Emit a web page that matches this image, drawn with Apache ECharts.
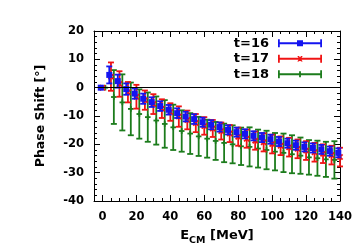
<!DOCTYPE html>
<html>
<head>
<meta charset="utf-8">
<script src="https://cdn.jsdelivr.net/npm/echarts@6/dist/echarts.min.js"></script>
<style>html,body{margin:0;padding:0;background:#fff;}#c{width:359px;height:251px;}</style>
</head>
<body>
<div id="c"></div>
<script>
// ---- data ----
const energies = [0,5,10,15,20,25,30,35,40,45,50,55,60,65,70,75,80,85,90,95,100,105,110,115,120,125,130,135,140];
const shiftT16 = -1.0, shiftT17 = 0.0, shiftT18 = 1.7; // small energy offsets per time slice (MeV)
const phaseT16 = [0,4.5,2.3,-0.5,-2.1,-3.9,-5.1,-6.5,-7.8,-9.0,-10.2,-11.1,-12.2,-13.1,-13.9,-14.9,-15.7,-16.3,-17.0,-17.6,-18.2,-19.0,-19.6,-20.3,-20.9,-21.3,-21.8,-22.4,-23.0];
const errT16   = [0,3.0,2.3,2.0,1.8,1.8,1.7,1.7,1.7,1.7,1.7,1.7,1.6,1.6,1.6,1.6,1.6,1.6,1.6,1.6,1.6,1.6,1.6,1.6,1.6,1.6,1.6,1.6,1.6];
const phaseT17 = [0,3.9,1.3,-1.6,-3.2,-4.4,-5.8,-7.4,-8.6,-10.2,-11.4,-12.5,-13.5,-14.4,-15.3,-16.2,-17.3,-18.0,-18.7,-19.3,-19.9,-20.5,-21.0,-21.6,-22.2,-22.8,-23.3,-23.8,-24.5];
const errT17   = [0,5.0,4.5,3.6,4.2,3.4,3.5,3.3,3.1,3.6,3.3,3.2,3.1,3.0,3.0,3.0,3.2,3.2,3.2,3.2,3.3,3.3,3.3,3.3,3.3,3.3,3.3,3.3,3.3];
const phaseT18 = [0,-3.3,-5.2,-7.5,-9.3,-10.4,-11.6,-12.8,-14.0,-15.3,-16.2,-17.2,-18.0,-18.8,-19.5,-20.0,-20.7,-20.9,-21.5,-22.0,-22.6,-23.0,-23.5,-24.0,-24.6,-24.9,-25.3,-25.5,null];
const errT18   = [0,9.5,9.9,9.3,8.7,8.7,8.5,8.4,8.0,7.3,7.2,6.9,6.7,6.7,6.8,6.7,6.6,6.9,6.7,6.8,6.6,6.8,6.7,6.4,6.1,6.2,6.2,6.6,null];
const seriesNames = ['t=16','t=17','t=18'];
const xTickLabels = [0,20,40,60,80,100,120,140];
const yTickLabels = [-40,-30,-20,-10,0,10,20];

// ---- styles ----
const FONT = 'DejaVu Sans';
const C16 = '#1414f0', C17 = '#f01414', C18 = '#1c7c1c';

function buildData(phase, err, shift) {
  const out = [];
  for (let i = 0; i < energies.length; i++) {
    if (phase[i] === null) continue;
    out.push([energies[i] + shift, phase[i], err[i]]);
  }
  return out;
}

function makeRender(color, marker) {
  return function (params, api) {
    const x = api.value(0), y = api.value(1), e = api.value(2);
    const c = api.coord([x, y]);
    const t = api.coord([x, y + e]);
    const b = api.coord([x, y - e]);
    const lw = 1.8, cw = 3;
    const st = { stroke: color, lineWidth: lw, fill: null };
    const ch = [];
    if (e > 0) {
      ch.push({ type: 'line', shape: { x1: c[0], y1: t[1], x2: c[0], y2: b[1] }, style: st });
      ch.push({ type: 'line', shape: { x1: c[0] - cw, y1: t[1], x2: c[0] + cw, y2: t[1] }, style: st });
      ch.push({ type: 'line', shape: { x1: c[0] - cw, y1: b[1], x2: c[0] + cw, y2: b[1] }, style: st });
    }
    if (marker === 'square') {
      ch.push({ type: 'rect', shape: { x: c[0] - 3, y: c[1] - 3, width: 6, height: 6 }, style: { fill: color } });
    } else if (marker === 'cross') {
      ch.push({ type: 'line', shape: { x1: c[0] - 2.6, y1: c[1] - 2.6, x2: c[0] + 2.6, y2: c[1] + 2.6 }, style: st });
      ch.push({ type: 'line', shape: { x1: c[0] - 2.6, y1: c[1] + 2.6, x2: c[0] + 2.6, y2: c[1] - 2.6 }, style: st });
    } else {
      ch.push({ type: 'line', shape: { x1: c[0] - 2.8, y1: c[1], x2: c[0] + 2.8, y2: c[1] }, style: st });
      ch.push({ type: 'line', shape: { x1: c[0], y1: c[1] - 2.8, x2: c[0], y2: c[1] + 2.8 }, style: st });
    }
    return { type: 'group', children: ch };
  };
}

const base = 'M0,3.1h44v1.8h-44z M0,0h1.8v8h-1.8z M42.2,0h1.8v8h-1.8z ';
const icon16 = 'path://' + base + 'M19,1h6v6h-6z';
const icon17 = 'path://' + base + 'M19.3,1.3L21,1.3L24.7,6.7L23,6.7Z M23,1.3L24.7,1.3L21,6.7L19.3,6.7Z';
const icon18 = 'path://' + base + 'M21.1,1h1.8v6h-1.8z';

const axisLineStyle = { color: '#000', width: 1 };
const labelStyle = { color: '#000', fontFamily: FONT, fontWeight: 'bold', fontSize: 11.5 };

const option = {
  animation: false,
  backgroundColor: '#fff',
  grid: { left: 94, right: 19, top: 31, bottom: 48, containLabel: false },
  legend: {
    orient: 'vertical', right: 32, top: 31, align: 'right',
    itemWidth: 44, itemHeight: 8, itemGap: 1,
    textStyle: { color: '#000', fontFamily: FONT, fontWeight: 'bold', fontSize: 13, lineHeight: 14.5, padding: [0, 4, 0, 0] },
    data: [
      { name: seriesNames[0], icon: icon16 },
      { name: seriesNames[1], icon: icon17 },
      { name: seriesNames[2], icon: icon18 }
    ]
  },
  xAxis: [
    { type: 'value', min: -5, max: 140, interval: 5, position: 'bottom',
      axisLine: { onZero: false, lineStyle: axisLineStyle }, axisTick: { inside: true, length: 3, lineStyle: axisLineStyle },
      axisLabel: { show: false }, splitLine: { show: false },
      name: '{a|E}{b|CM}{a| [MeV]}', nameLocation: 'middle', nameGap: 28,
      nameTextStyle: { color: '#000', rich: {
        a: { fontFamily: FONT, fontWeight: 'bold', fontSize: 13, color: '#000', verticalAlign: 'top', lineHeight: 16 },
        b: { fontFamily: FONT, fontWeight: 'bold', fontSize: 9.5, color: '#000', verticalAlign: 'top', lineHeight: 16, padding: [7, 0, 0, 0] }
      } } },
    { type: 'value', min: -5, max: 140, position: 'bottom',
      axisLine: { show: false, onZero: false },
      axisTick: { inside: true, length: 6, lineStyle: axisLineStyle, customValues: xTickLabels },
      axisLabel: Object.assign({ margin: 10, customValues: xTickLabels }, labelStyle), splitLine: { show: false } },
    { type: 'value', min: -5, max: 140, interval: 5, position: 'top',
      axisLine: { onZero: false, lineStyle: axisLineStyle }, axisTick: { inside: true, length: 3, lineStyle: axisLineStyle },
      axisLabel: { show: false }, splitLine: { show: false } },
    { type: 'value', min: -5, max: 140, position: 'top',
      axisLine: { show: false, onZero: false },
      axisTick: { inside: true, length: 6, lineStyle: axisLineStyle, customValues: xTickLabels },
      axisLabel: { show: false }, splitLine: { show: false } }
  ],
  yAxis: [
    { type: 'value', min: -40, max: 20, interval: 10, position: 'left',
      axisLine: { show: true, onZero: false, lineStyle: axisLineStyle },
      axisTick: { show: true, inside: true, length: 6, lineStyle: axisLineStyle },
      minorTick: { show: true, splitNumber: 5, length: 3, lineStyle: axisLineStyle },
      axisLabel: Object.assign({ margin: 10, customValues: yTickLabels }, labelStyle),
      splitLine: { show: false },
      name: 'Phase Shift [°]', nameLocation: 'middle', nameGap: 47,
      nameTextStyle: { color: '#000', fontFamily: FONT, fontWeight: 'bold', fontSize: 12.5 } },
    { type: 'value', min: -40, max: 20, interval: 10, position: 'right',
      axisLine: { show: true, onZero: false, lineStyle: axisLineStyle },
      axisTick: { show: true, inside: true, length: 6, lineStyle: axisLineStyle },
      minorTick: { show: true, splitNumber: 5, length: 3, lineStyle: axisLineStyle },
      axisLabel: { show: false }, splitLine: { show: false } }
  ],
  series: [
    { name: seriesNames[2], type: 'custom', xAxisIndex: 0, yAxisIndex: 0, itemStyle: { color: C18 },
      renderItem: makeRender(C18, 'plus'), data: buildData(phaseT18, errT18, shiftT18),
      markLine: { silent: true, symbol: 'none', label: { show: false }, lineStyle: { color: '#000', width: 1, type: 'solid' }, data: [{ yAxis: 0 }] } },
    { name: seriesNames[1], type: 'custom', xAxisIndex: 0, yAxisIndex: 0, itemStyle: { color: C17 },
      renderItem: makeRender(C17, 'cross'), data: buildData(phaseT17, errT17, shiftT17) },
    { name: seriesNames[0], type: 'custom', xAxisIndex: 0, yAxisIndex: 0, itemStyle: { color: C16 },
      renderItem: makeRender(C16, 'square'), data: buildData(phaseT16, errT16, shiftT16) }
  ]
};

const chart = echarts.init(document.getElementById('c'), null, { renderer: 'canvas' });
chart.setOption(option);
</script>
</body>
</html>
